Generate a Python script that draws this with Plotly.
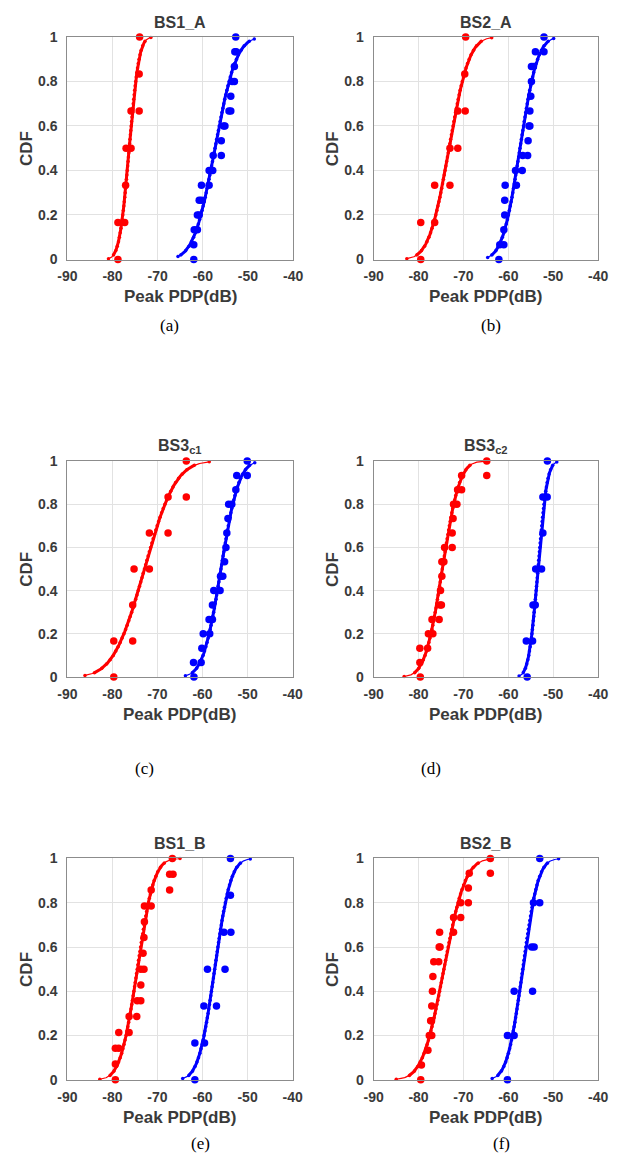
import math
import numpy as np
import plotly.graph_objects as go

# ---------------- data ----------------
X_TICKS = [-90, -80, -70, -60, -50, -40]
X_TICK_LABELS = ["-90", "-80", "-70", "-60", "-50", "-40"]
Y_TICKS = [0, 0.2, 0.4, 0.6, 0.8, 1]
Y_TICK_LABELS = ["0", "0.2", "0.4", "0.6", "0.8", "1"]
TITLES = ["BS1_A", "BS2_A", "BS3<sub>c1</sub>", "BS3<sub>c2</sub>", "BS1_B", "BS2_B"]
CAPTIONS = ["(a)", "(b)", "(c)", "(d)", "(e)", "(f)"]
X_LABEL = "Peak PDP(dB)"
Y_LABEL = "CDF"

# empirical CDF dots: level index k (y = k/n) and x value (dB)
A_RED_N = 6
A_RED_K = [0, 1, 1, 2, 3, 3, 4, 4, 5, 6]
A_RED_X = [-78.8, -78.8, -77.3, -77.1, -77.0, -75.9, -75.9, -74.1, -74.1, -74.0]
A_RED_FIT = [-76.3, 1.7, -80.9, -71.5]   # mu, sigma, x start, x end
A_BLUE_N = 15
A_BLUE_K = [0, 1, 2, 2, 3, 3, 4, 4, 5, 5, 6, 6, 7, 7, 8, 9, 9, 10, 10, 11, 12, 12, 13, 14, 14, 15]
A_BLUE_X = [-62.0, -62.0, -61.9, -61.2, -61.2, -60.8, -60.8, -60.3, -60.3, -58.6, -58.6, -57.8,
            -57.7, -55.9, -55.9, -55.4, -55.1, -54.2, -53.8, -53.8, -53.5, -53.0, -53.0,
            -52.9, -52.6, -52.7]
A_BLUE_FIT = [-57.3, 3.7, -65.5, -48.6]

B_RED_N = 6
B_RED_K = [0, 1, 1, 2, 2, 3, 3, 4, 4, 5, 6]
B_RED_X = [-79.5, -79.5, -76.4, -76.4, -73.0, -73.0, -71.25, -71.25, -69.6, -69.7, -69.5]
B_RED_FIT = [-73.2, 3.5, -82.6, -63.7]
B_BLUE_N = 15
B_BLUE_K = [0, 1, 1, 2, 3, 4, 5, 5, 6, 6, 7, 7, 8, 9, 9, 10, 11, 12, 13, 13, 14, 14, 15]
B_BLUE_X = [-62.1, -61.9, -61.0, -61.0, -60.8, -60.8, -60.7, -58.2, -58.4, -56.9, -56.8, -55.7,
            -55.6, -55.4, -55.2, -55.2, -55.0, -54.85, -54.85, -54.4, -53.97, -52.06, -52.06]
B_BLUE_FIT = [-57.4, 3.06, -64.6, -49.9]

C_RED_N = 6
C_RED_K = [0, 1, 1, 2, 3, 3, 4, 4, 5, 5, 6]
C_RED_X = [-79.7, -79.7, -75.5, -75.5, -75.2, -71.8, -71.8, -67.65, -67.65, -63.6, -63.6]
C_RED_FIT = [-72.9, 5.4, -86.1, -58.5]
C_BLUE_N = 15
C_BLUE_K = [0, 1, 1, 2, 3, 3, 4, 4, 5, 6, 6, 7, 7, 8, 9, 10, 11, 12, 12, 13, 14, 14, 15]
C_BLUE_X = [-61.9, -62.0, -60.3, -60.15, -59.85, -58.4, -58.55, -57.8, -57.8, -57.5, -56.1,
            -56.0, -55.5, -55.1, -54.8, -54.6, -54.35, -54.2, -53.5, -52.6, -52.4, -50.07, -50.07]
C_BLUE_FIT = [-55.9, 3.1, -63.8, -48.4]

D_RED_N = 15
D_RED_K = [0, 1, 2, 2, 3, 3, 4, 4, 5, 5, 6, 7, 8, 8, 9, 9, 10, 11, 12, 12, 13, 13, 14, 14, 15]
D_RED_X = [-79.6, -79.7, -79.7, -77.97, -77.8, -76.8, -77.0, -75.4, -75.2, -74.9, -75.1, -74.8,
           -74.8, -74.35, -74.2, -72.5, -72.5, -72.3, -72.2, -71.45, -71.3, -70.4, -70.4, -64.8, -64.8]
D_RED_FIT = [-74.7, 3.0, -83.2, -64.8]
D_BLUE_N = 6
D_BLUE_K = [0, 1, 1, 2, 2, 3, 3, 4, 5, 5, 6]
D_BLUE_X = [-55.8, -56.0, -54.6, -54.5, -54.0, -53.9, -52.6, -52.3, -52.3, -51.35, -51.3]
D_BLUE_FIT = [-53.4, 1.6, -57.6, -49.2]

E_RED_N = 14
E_RED_K = [0, 1, 2, 2, 3, 3, 4, 4, 5, 5, 6, 7, 7, 8, 9, 10, 11, 11, 12, 12, 13, 13, 14]
E_RED_X = [-79.35, -79.35, -79.35, -78.6, -78.6, -76.3, -76.3, -74.6, -74.5, -73.7, -73.7,
           -73.7, -73.0, -73.2, -73.0, -72.9, -72.9, -71.4, -71.4, -67.3, -67.3, -66.55, -66.7]
E_RED_FIT = [-74.5, 2.94, -82.8, -65.0]
E_BLUE_N = 6
E_BLUE_K = [0, 1, 1, 2, 2, 3, 3, 4, 4, 5, 6]
E_BLUE_X = [-61.7, -61.7, -59.55, -59.7, -56.9, -58.9, -55.0, -55.25, -53.7, -53.8, -53.8]
E_BLUE_FIT = [-57.3, 2.8, -64.4, -49.4]

F_RED_N = 15
F_RED_K = [0, 1, 2, 3, 3, 4, 4, 5, 6, 7, 8, 8, 9, 9, 10, 10, 11, 11, 12, 12, 13, 14, 14, 15]
F_RED_X = [-79.5, -79.35, -77.9, -77.6, -77.05, -77.3, -77.1, -77.05, -76.9, -76.8, -76.6, -75.5,
           -75.4, -75.2, -75.3, -72.2, -72.2, -70.6, -70.6, -68.9, -68.9, -68.7, -64.0, -64.0]
F_RED_FIT = [-74.35, 3.74, -84.96, -64.4]
F_BLUE_N = 5
F_BLUE_K = [0, 1, 1, 2, 2, 3, 3, 4, 4, 5]
F_BLUE_X = [-60.2, -60.2, -58.7, -58.7, -54.6, -54.8, -54.25, -54.4, -53.0, -53.0]
F_BLUE_FIT = [-56.8, 2.7, -63.6, -48.8]

PANEL_SERIES = [
    [(A_RED_N, A_RED_K, A_RED_X, A_RED_FIT), (A_BLUE_N, A_BLUE_K, A_BLUE_X, A_BLUE_FIT)],
    [(B_RED_N, B_RED_K, B_RED_X, B_RED_FIT), (B_BLUE_N, B_BLUE_K, B_BLUE_X, B_BLUE_FIT)],
    [(C_RED_N, C_RED_K, C_RED_X, C_RED_FIT), (C_BLUE_N, C_BLUE_K, C_BLUE_X, C_BLUE_FIT)],
    [(D_RED_N, D_RED_K, D_RED_X, D_RED_FIT), (D_BLUE_N, D_BLUE_K, D_BLUE_X, D_BLUE_FIT)],
    [(E_RED_N, E_RED_K, E_RED_X, E_RED_FIT), (E_BLUE_N, E_BLUE_K, E_BLUE_X, E_BLUE_FIT)],
    [(F_RED_N, F_RED_K, F_RED_X, F_RED_FIT), (F_BLUE_N, F_BLUE_K, F_BLUE_X, F_BLUE_FIT)],
]
COLORS = ["#ff0000", "#0000ff"]

# ---------------- layout geometry (pixels) ----------------
W, H = 621, 1167
BOXES = [  # left, right, top, bottom
    (59.3, 292.5, 29.3, 255.0),
    (375.7, 607.7, 29.3, 255.0),
    (59.3, 292.0, 459.3, 678.3),
    (375.7, 607.7, 459.3, 678.3),
    (59.3, 292.0, 862.3, 1086.7),
    (375.7, 607.7, 862.3, 1086.7),
]
CAPTION_POS = [(165, 322), (497, 322), (139, 771), (435, 771), (197, 1151), (508, 1151)]


def fx(p):
    return p / W


def fy(p):
    return 1 - p / H


def ncdf(x, mu, s):
    return np.array([0.5 * (1 + math.erf((v - mu) / (s * math.sqrt(2)))) for v in x])


fig = go.Figure()
layout = dict(width=W, height=H, margin=dict(l=0, r=0, t=0, b=0),
              paper_bgcolor="white", plot_bgcolor="white", showlegend=False)
annotations = []
TXT = "#3a3a3a"
FONT = "Liberation Sans"

for i, (box, series) in enumerate(zip(BOXES, PANEL_SERIES)):
    sfx = "" if i == 0 else str(i + 1)
    xa, ya = "x" + sfx, "y" + sfx
    L, R, T, B = box
    axcommon = dict(showline=True, mirror=True, linecolor="#8c8c8c", linewidth=1,
                    showgrid=True, gridcolor="#e2e2e2", gridwidth=1, zeroline=False,
                    ticks="", tickfont=dict(family=FONT, size=14, color=TXT, weight="bold"))
    layout["xaxis" + sfx] = dict(domain=[fx(L), fx(R)], anchor=ya, range=[-90, -40],
                                 tickmode="array", tickvals=X_TICKS, ticktext=X_TICK_LABELS,
                                 ticklabelstandoff=4, **axcommon)
    layout["yaxis" + sfx] = dict(domain=[fy(B), fy(T)], anchor=xa, range=[0, 1],
                                 tickmode="array", tickvals=Y_TICKS, ticktext=Y_TICK_LABELS,
                                 ticklabelstandoff=6, **axcommon)

    for (n, ks, xs, fit), col in zip(series, COLORS):
        mu, sg, x0, x1 = fit
        xd = np.linspace(x0, x1, 500)
        cd = ncdf(xd, mu, sg)
        # thin full-range fit
        fig.add_trace(go.Scatter(x=xd, y=cd, mode="lines", line=dict(color=col, width=1.2),
                                 xaxis=xa, yaxis=ya, hoverinfo="skip", cliponaxis=False))
        # thick central part of the fit
        m = (cd >= 0.02) & (cd <= 0.98)
        fig.add_trace(go.Scatter(x=xd[m], y=cd[m], mode="lines", line=dict(color=col, width=3),
                                 xaxis=xa, yaxis=ya, hoverinfo="skip", cliponaxis=False))
        # small sample dots of the fitted curve (uniform in probability)
        step = 1 / 50
        p = np.arange(math.ceil(cd[0] / step), math.floor(cd[-1] / step) + 1) * step
        p = np.concatenate([[cd[0]], p, [cd[-1]]])
        xm = np.interp(p, cd, xd)
        fig.add_trace(go.Scatter(x=xm, y=p, mode="markers", marker=dict(color=col, size=3.5),
                                 xaxis=xa, yaxis=ya, hoverinfo="skip", cliponaxis=False))
        # empirical dots
        ys = [k / n for k in ks]
        fig.add_trace(go.Scatter(x=xs, y=ys, mode="markers",
                                 marker=dict(color=col, size=7.5, line=dict(width=0)),
                                 xaxis=xa, yaxis=ya, cliponaxis=False))

    cx = (L + R) / 2
    annotations.append(dict(text=TITLES[i], x=fx(cx), y=fy(T - 15), xref="paper", yref="paper",
                            showarrow=False, xanchor="center", yanchor="middle",
                            font=dict(family=FONT, size=16, color=TXT, weight="bold")))
    annotations.append(dict(text=X_LABEL, x=fx(cx), y=fy(B + 38), xref="paper", yref="paper",
                            showarrow=False, xanchor="center", yanchor="middle",
                            font=dict(family=FONT, size=17, color=TXT, weight="bold")))
    annotations.append(dict(text=Y_LABEL, x=fx(L - 43), y=fy((T + B) / 2), xref="paper",
                            yref="paper", showarrow=False, textangle=-90,
                            xanchor="center", yanchor="middle",
                            font=dict(family=FONT, size=17, color=TXT, weight="bold")))
    cxp, cyp = CAPTION_POS[i]
    annotations.append(dict(text=CAPTIONS[i], x=fx(cxp), y=fy(cyp), xref="paper", yref="paper",
                            showarrow=False, xanchor="center", yanchor="middle",
                            font=dict(family="Liberation Serif", size=17, color="black")))

layout["annotations"] = annotations
fig.update_layout(**layout)
fig.write_html("out.html", config={"displayModeBar": False},
               post_script="document.body.style.margin='0';document.body.style.overflow='hidden';")
